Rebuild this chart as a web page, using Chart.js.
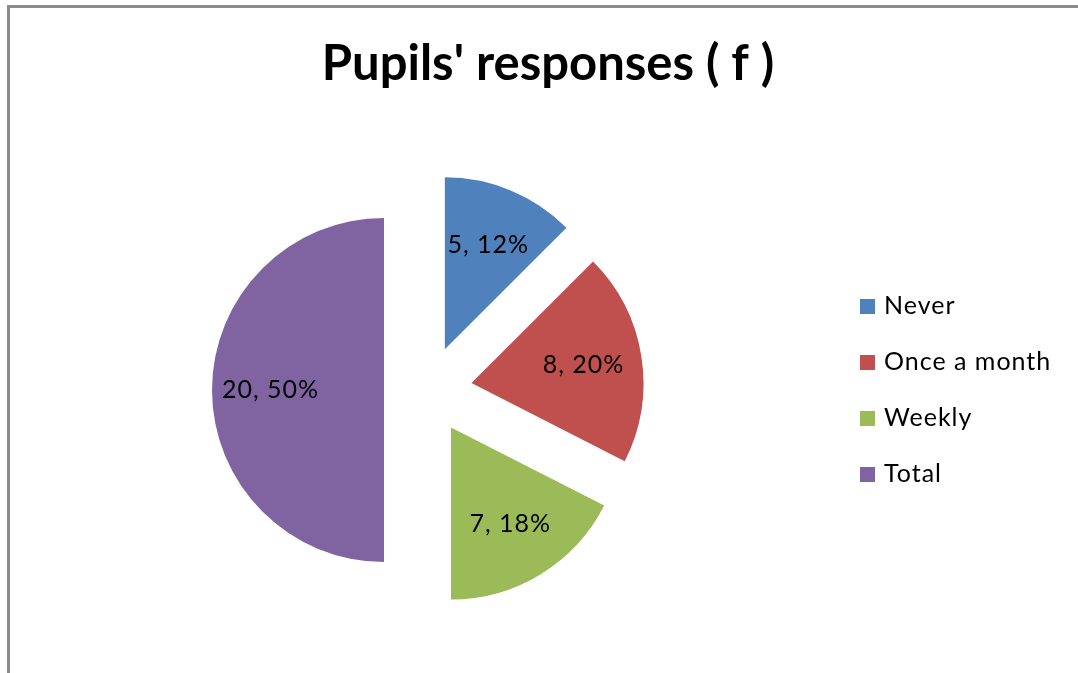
<!DOCTYPE html>
<html>
<head>
<meta charset="utf-8">
<script src="https://cdn.jsdelivr.net/npm/chart.js@4"></script>
<style>
html, body { margin: 0; padding: 0; background: #fff; }
</style>
</head>
<body>
<canvas id="pupilsChart" width="1078" height="673"></canvas>
<script>
const categories = ['Never', 'Once a month', 'Weekly', 'Total'];
const frequencies = [5, 8, 7, 20];
const percentLabels = ['12%', '20%', '18%', '50%'];
const sliceColors = ['#4F81BD', '#C0504D', '#9BBB59', '#8064A2'];
const chartTitle = "Pupils' responses ( f )";

const explode = 44;       // distance each slice is pulled out
const labelRadius = 0.66; // data label position, fraction of radius

const pieExtras = {
    id: 'pieExtras',
    // push every slice out along its middle angle (Excel style exploded pie)
    afterDatasetUpdate(chart, args) {
        args.meta.data.forEach(arc => {
            const mid = (arc.startAngle + arc.endAngle) / 2;
            arc.x += Math.cos(mid) * explode;
            arc.y += Math.sin(mid) * explode;
        });
    },
    beforeDraw(chart) {
        const ctx = chart.ctx;
        ctx.save();
        ctx.strokeStyle = '#8c8c8c';
        ctx.lineWidth = 3;
        ctx.strokeRect(8.5, 6.5, 1300, 1300);
        ctx.restore();
    },
    afterDraw(chart) {
        const ctx = chart.ctx;
        ctx.save();

        // title
        ctx.fillStyle = '#000';
        ctx.font = 'bold 49px Lato';
        ctx.textAlign = 'center';
        ctx.textBaseline = 'alphabetic';
        ctx.fillText(chartTitle, 548, 80);

        // data labels
        ctx.font = '25px Lato';
        ctx.letterSpacing = '1px';
        ctx.textBaseline = 'middle';
        chart.getDatasetMeta(0).data.forEach((arc, i) => {
            const mid = (arc.startAngle + arc.endAngle) / 2;
            const r = arc.outerRadius * labelRadius;
            ctx.fillText(frequencies[i] + ', ' + percentLabels[i],
                arc.x + Math.cos(mid) * r, arc.y + Math.sin(mid) * r);
        });

        // legend
        ctx.font = '25px Lato';
        ctx.textAlign = 'left';
        categories.forEach((name, i) => {
            const y = 306 + i * 56;
            ctx.fillStyle = sliceColors[i];
            ctx.fillRect(860, y - 7, 15, 15);
            ctx.fillStyle = '#000';
            ctx.fillText(name, 884, y);
        });
        ctx.restore();
    }
};

new Chart(document.querySelector('#pupilsChart'), {
    type: 'pie',
    data: {
        labels: categories,
        datasets: [
            {
                data: frequencies,
                backgroundColor: sliceColors,
                borderWidth: 0,
                radius: 172,
            },
        ],
    },
    options: {
        responsive: false,
        animation: false,
        layout: { padding: { top: 107, right: 222, left: 0, bottom: 0 } },
        plugins: {
            legend: { display: false },
            title: { display: false },
            tooltip: { enabled: false },
        },
    },
    plugins: [pieExtras],
});
</script>
</body>
</html>
